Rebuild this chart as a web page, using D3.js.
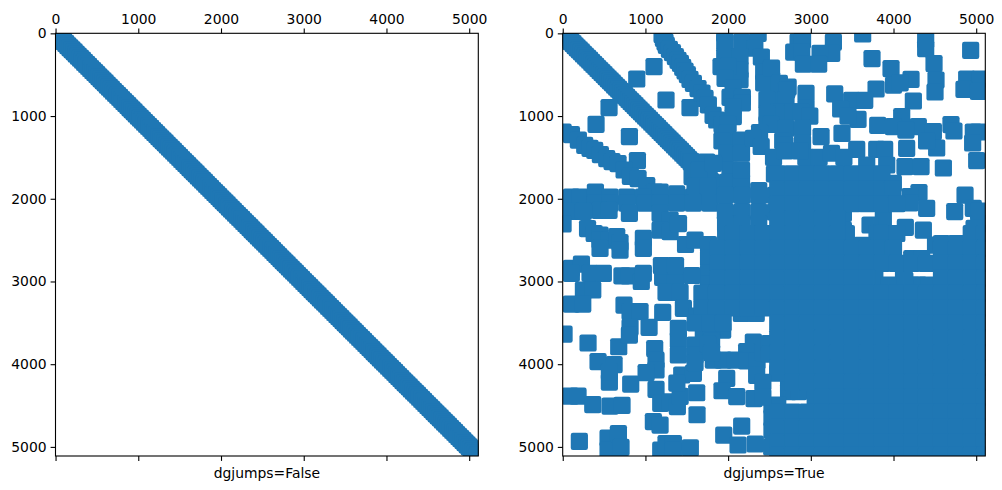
<!DOCTYPE html>
<html>
<head>
<meta charset="utf-8" />
<title>dgjumps sparsity</title>
<style>
html, body { margin: 0; padding: 0; background: white; }
svg { display: block; }
text { font-family: "DejaVu Sans", sans-serif; font-size: 13.9px; fill: black; }
</style>
<script src="https://d3js.org/d3.v7.min.js"></script>
</head>
<body>
<script>
var width = 1002;
var height = 490;

var tickValues = [0, 1000, 2000, 3000, 4000, 5000];
var matrixSize = 5110;
var labels = ["dgjumps=False", "dgjumps=True"];

// dgjumps=False: everything sits on the diagonal
var leftDiagonal = [0,25,50,75,100,125,150,175,200,225,250,275,300,325,350,375,400,425,450,475,500,525,550,575,600,625,650,675,700,725,750,775,800,825,850,875,900,925,950,975,1000,1025,1050,1075,1100,1125,1150,1175,1200,1225,1250,1275,1300,1325,1350,1375,1400,1425,1450,1475,1500,1525,1550,1575,1600,1625,1650,1675,1700,1725,1750,1775,1800,1825,1850,1875,1900,1925,1950,1975,2000,2025,2050,2075,2100,2125,2150,2175,2200,2225,2250,2275,2300,2325,2350,2375,2400,2425,2450,2475,2500,2525,2550,2575,2600,2625,2650,2675,2700,2725,2750,2775,2800,2825,2850,2875,2900,2925,2950,2975,3000,3025,3050,3075,3100,3125,3150,3175,3200,3225,3250,3275,3300,3325,3350,3375,3400,3425,3450,3475,3500,3525,3550,3575,3600,3625,3650,3675,3700,3725,3750,3775,3800,3825,3850,3875,3900,3925,3950,3975,4000,4025,4050,4075,4100,4125,4150,4175,4200,4225,4250,4275,4300,4325,4350,4375,4400,4425,4450,4475,4500,4525,4550,4575,4600,4625,4650,4675,4700,4725,4750,4775,4800,4825,4850,4875,4900,4925,4950,4975,5000,5025,5050,5075,5100];

// dgjumps=True
var rightDiagonal = [0,25,50,75,100,125,150,175,200,225,250,275,300,325,350,375,400,425,450,475,500,525,550,575,600,625,650,675,700,725,750,775,800,825,850,875,900,925,950,975,1000,1025,1050,1075,1100,1125,1150,1175,1200,1225,1250,1275,1300,1325,1350,1375,1400,1425,1450,1475,1500,1525,1550,1575,1600,1625,1650,1675,1700,1725,1750,1775,1800,1825,1850,1875,1900];
var rightIsolated = [[1104,403],[895,552],[1249,806],[560,899],[403,1100],[806,1249],[903,1539],[1539,899]];
var rightSecondBand = [[1201,16],[1217,60],[1237,105],[1253,145],[1290,193],[1326,234],[1362,282],[1394,326],[1423,363],[1451,411],[1479,455],[1507,500],[1539,556],[1580,604],[1636,669],[1684,721],[1721,786],[1761,866],[1818,991],[1862,1048],[1926,1104]];
var rightThirdBand = [[4,1193],[105,1225],[189,1290],[266,1354],[330,1390],[387,1415],[455,1467],[532,1515],[596,1552],[669,1576],[742,1652],[818,1729],[911,1757],[1016,1842],[1112,1918]];
var rightCrossBand = [[105,1979],[210,1979],[395,1918],[572,1979],[774,1979],[975,1979],[1177,1979],[1177,1918],[1378,1979],[1378,1940],[1580,1979],[1781,1979],[395,2053],[572,2053],[775,2053],[1000,2053],[1180,2053],[1378,2053],[1580,2053],[1781,2053],[450,2140],[560,2140],[1564,1556],[1741,1556],[1564,1733],[1741,1733],[1650,1650],[1600,1850],[1760,1850],[105,2152],[250,2152],[4,2305],[806,2176],[1177,2176],[1298,2257],[1177,2378],[975,2478],[1298,2397],[1400,2300],[300,2360],[380,2420],[451,2438],[451,2500],[560,2500],[653,2458],[693,2530],[1485,2553],[1600,2500],[1763,2554],[1763,2720],[1763,2900],[1763,3030]];
var rightTopColumn = [[1959,0],[1959,105],[2164,105],[2363,0],[2323,180],[1959,282],[2144,282],[2402,286],[2144,443],[2144,560],[1914,403],[2000,400],[1963,544],[2060,660],[2023,774],[2172,774],[2172,840],[2060,890],[2063,1007],[2000,1100],[1983,1209],[2000,1330],[1925,1300],[1983,1451],[2023,1652],[2000,1800],[2162,1800],[1822,1572],[2162,1290],[2162,1450],[2162,1650],[2370,1900],[1967,1958],[2168,1958],[2370,1958],[2571,1958],[1967,2160],[2168,2160],[2370,2160],[2571,2160],[1969,2300],[2168,2300],[2370,2300],[2430,467],[2527,564],[2527,700],[2430,600],[2525,420],[2620,606],[2726,650],[2708,685],[2600,800],[2700,800],[2469,800],[2942,725],[2942,900],[2610,950],[2780,950],[2880,950],[2988,1000],[2470,971],[2469,1100],[2520,1100],[2700,1150],[2900,1150],[2660,1300],[2900,1330],[2688,1350],[2380,1200],[2305,1270],[2400,1368],[2549,1500],[2560,1700],[2940,1500],[3100,1500]];
var rightUpperRight = [[2846,105],[2900,80],[2793,226],[2890,226],[3273,105],[3253,242],[3112,242],[2910,371],[3095,371],[3740,306],[3627,8],[3970,427],[4000,625],[4212,556],[4080,600],[3789,673],[4240,818],[4389,81],[4389,185],[4490,367],[4514,564],[4502,709],[4933,206],[4885,552],[5046,552],[4852,677],[5026,701],[3289,733],[3494,810],[3652,810],[3361,915],[3571,1040],[3450,1000],[3809,1112],[4099,1007],[3998,1128],[4300,1128],[4150,1170],[4695,1104],[4731,1181],[4965,1193],[5026,1193],[4957,1326],[5006,1539],[4603,1628],[4482,1189],[4522,1386],[4400,1300],[4159,1390],[3124,1249],[3377,1209],[2688,1420],[2870,1420],[3555,1402],[3797,1402],[3893,1402],[3250,1450],[3400,1500],[4139,1612],[4333,1612],[3676,1592],[3918,1592],[3595,1926],[3998,1813],[3830,1813],[4308,1926],[4200,1975],[4200,2050],[4401,2116],[3877,2237],[3716,2317],[4143,2345],[3837,2418],[4361,2378],[4865,1955],[4740,2156],[4965,2116],[5030,2150],[5030,2300],[4974,2358],[3394,2176],[3394,2378]];
var rightLowerLeft = [[104,2842],[226,2789],[330,2902],[491,2902],[104,2902],[716,2932],[800,2932],[950,3000],[975,2903],[1208,2950],[1364,2950],[1193,2808],[1364,2808],[975,2600],[451,2600],[693,2620],[1563,2928],[250,3103],[363,3103],[104,3273],[242,3273],[741,3285],[814,3365],[935,3365],[814,3555],[1044,3555],[677,3789],[806,3648],[16,3636],[306,3744],[427,3970],[621,4006],[564,4216],[564,4091],[822,4240],[89,4385],[185,4385],[363,4490],[572,4506],[717,4498],[1096,4695],[1177,4736],[201,4933],[548,4893],[548,5038],[673,4840],[705,5006],[1185,5038],[1249,4961],[1338,4961],[1338,5038],[1543,5010],[1624,4611],[1112,3813],[1128,3950],[1128,4070],[1008,4103],[1128,4305],[1185,4474],[1298,4454],[1386,4514],[1420,4390],[1620,4345],[1439,4131],[1580,4111],[1380,4230],[1398,3708],[1600,3768],[1398,3889],[1600,3889],[1600,3980],[1398,3567],[1209,3373],[1249,3132],[1419,3132],[1459,3325],[1620,3420],[1800,3420],[1934,3587],[1700,3600],[1800,3600],[1800,3720],[2305,3732],[2224,3849],[1821,3950],[1942,3950],[2083,3950],[2224,3960],[2350,3960],[1983,4172],[1926,4321],[2104,4393],[2313,4417],[2345,4135],[1947,4857],[2164,4748],[2120,4977],[2329,4965],[2527,5001],[2160,3387],[2340,3387],[1760,3760],[1800,3860],[2420,3860],[2500,3750],[2500,3880],[2530,4500],[2530,4650],[2530,4800]];
var rightHoleEdges = [[3430,2420],[3800,2420],[3620,2562],[4508,2560],[4220,2723],[4340,2723],[4580,2543],[4760,2543],[3774,2960],[4121,2960],[3947,3045],[4300,3045],[4400,3045],[4220,3045],[4137,2985],[2731,4250],[2731,4331],[2853,4331],[3053,4400],[2600,4108],[2600,4496]];

// the nearly full lower right part, one list of columns per row
var denseRows = [1700,1880,2060,2240,2420,2600,2780,2960,3140,3320,3500,3680,3860,4040,4220,4400,4580,4760,4940,5100];
var denseCols = [
  [2600,2780,2960,3140,3320,3500,3680,3860],
  [2600,2780,2960,3140,3320,3500,3680,3860,3990],
  [2600,2780,2960,3140,3320,3500,3680,3860,4040],
  [2600,2780,2960,3140,3320],
  [1970,2060,2240,2420,2600,2780,2960,3140,3320,3860,4040,4940,5100],
  [1880,2060,2240,2420,2600,2780,2960,3140,3320,3500,3680,3860,4000,4580,4760,4940,5100],
  [1880,2060,2240,2420,2600,2780,2960,3140,3320,3500,3680,3860,4040,4220,4400,4580,4760,4940,5100],
  [1880,2060,2240,2420,2600,2780,2960,3140,3320,3500,3680,4580,4760,4940,5100],
  [1683,1860,2060,2240,2420,2600,2780,2960,3140,3320,3500,3680,3860,4040,4220,4400,4580,4760,4940,5100],
  [1683,1860,2060,2240,2420,2600,2780,2960,3140,3320,3500,3680,3860,4040,4220,4400,4580,4760,4940,5100],
  [1602,1780,1940,2600,2780,2960,3140,3320,3500,3680,3860,4040,4220,4400,4580,4760,4940,5100],
  [2600,2780,2960,3140,3320,3500,3680,3860,4040,4220,4400,4580,4760,4940,5100],
  [2600,2780,2960,3140,3320,3500,3680,3860,4040,4220,4400,4580,4760,4940,5100],
  [2600,2780,2960,3140,3320,3500,3680,3860,4040,4220,4400,4580,4760,4940,5100],
  [2420,2780,2960,3140,3320,3500,3680,3860,4040,4220,4400,4580,4760,4940,5100],
  [2420,3140,3320,3500,3680,3860,4040,4220,4400,4580,4760,4940,5100],
  [2600,2780,2960,3140,3320,3500,3680,3860,4040,4220,4400,4580,4760,4940,5100],
  [2600,2780,2960,3140,3320,3500,3680,3860,4040,4220,4400,4580,4760,4940,5100],
  [2600,2780,2960,3140,3320,3500,3680,3860,4040,4220,4400,4580,4760,4940,5100],
  [2600,2780,2960,3140,3320,3500,3680,3860,4040,4220,4400,4580,4760,4940,5100]
];

var leftPoints = leftDiagonal.map(function(d){ return [d, d]; });

var rightPoints = rightDiagonal.map(function(d){ return [d, d]; })
  .concat(rightIsolated, rightSecondBand, rightThirdBand, rightCrossBand,
          rightTopColumn, rightUpperRight, rightLowerLeft, rightHoleEdges);
denseRows.forEach(function(r, i){
  denseCols[i].forEach(function(c){ rightPoints.push([c, r]); });
});

var svg = d3.select("body").append("svg")
  .attr("width", width)
  .attr("height", height);

var markerSize = 17.2;
var blue = "#1f77b4";

function drawPanel(id, left, right, points, label) {
  var top = 33.3, bottom = 456;
  var x = d3.scaleLinear().domain([-0.5, matrixSize]).range([left, right]);
  var y = d3.scaleLinear().domain([-0.5, matrixSize]).range([top, bottom]);

  var g = svg.append("g");

  svg.append("clipPath").attr("id", id)
    .append("rect")
    .attr("x", left).attr("y", top)
    .attr("width", right - left).attr("height", bottom - top);

  g.append("g").attr("clip-path", "url(#" + id + ")")
    .selectAll("rect")
    .data(points)
    .enter().append("rect")
    .attr("x", function(d){ return x(d[0]) - markerSize / 2; })
    .attr("y", function(d){ return y(d[1]) - markerSize / 2; })
    .attr("width", markerSize)
    .attr("height", markerSize)
    .attr("rx", 2.2)
    .attr("fill", blue);

  g.append("g").attr("transform", "translate(0," + top + ")")
    .call(d3.axisTop(x).tickValues(tickValues).tickSize(4.9).tickPadding(4).tickFormat(d3.format("d")));
  g.append("g").attr("transform", "translate(0," + bottom + ")")
    .call(d3.axisBottom(x).tickValues(tickValues).tickSize(4.9).tickFormat(""));
  g.append("g").attr("transform", "translate(" + left + ",0)")
    .call(d3.axisLeft(y).tickValues(tickValues).tickSize(4.9).tickPadding(4).tickFormat(d3.format("d")));

  g.selectAll(".domain").remove();
  g.selectAll(".tick line").attr("stroke", "black").attr("stroke-width", 1.1);
  g.selectAll(".tick text").style("font-family", '"DejaVu Sans", sans-serif').style("font-size", "13.9px").attr("fill", "black");

  g.append("rect")
    .attr("x", left).attr("y", top)
    .attr("width", right - left).attr("height", bottom - top)
    .attr("fill", "none")
    .attr("stroke", "black")
    .attr("stroke-width", 1.1);

  g.append("text")
    .attr("x", (left + right) / 2)
    .attr("y", 478)
    .attr("text-anchor", "middle")
    .text(label);
}

drawPanel("clipLeft", 55.5, 478.3, leftPoints, labels[0]);
drawPanel("clipRight", 562.7, 985.3, rightPoints, labels[1]);
</script>
</body>
</html>
